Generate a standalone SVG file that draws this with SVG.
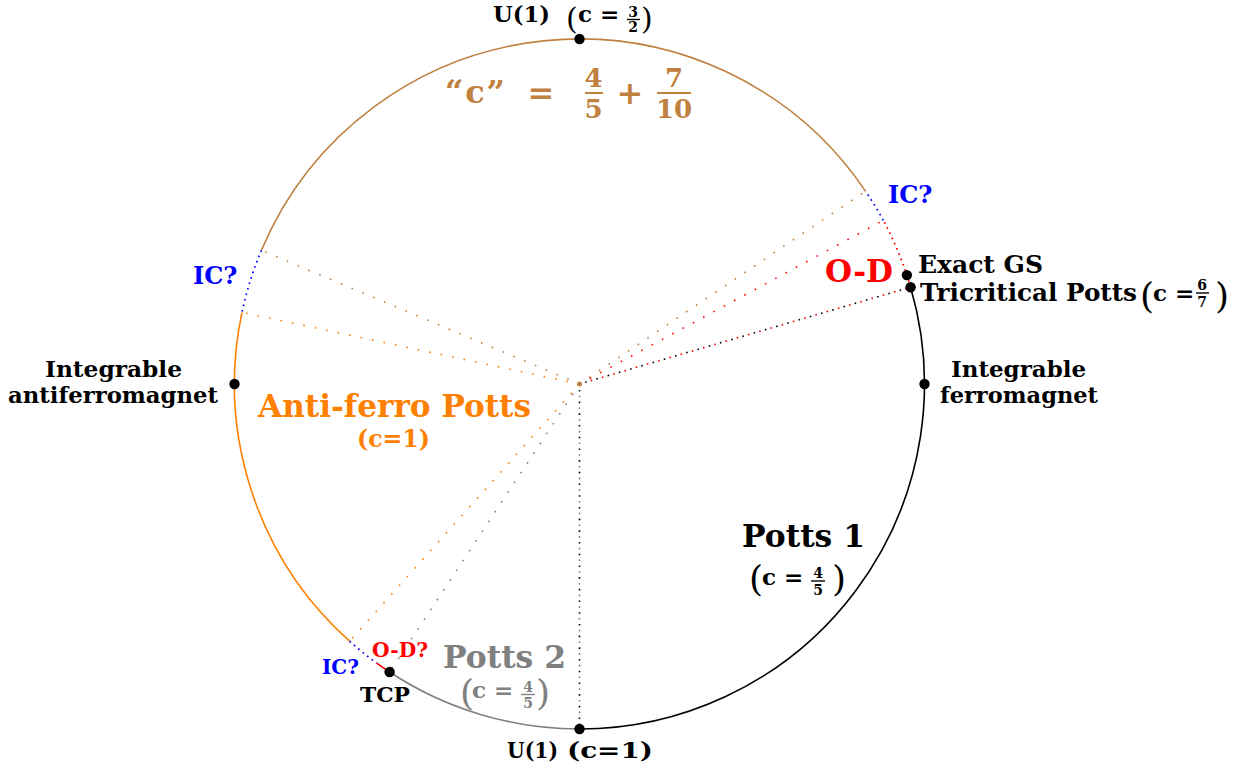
<svg xmlns="http://www.w3.org/2000/svg" width="1245" height="772" viewBox="0 0 1245 772">
<style>
text{font-family:"DejaVu Serif",serif;font-weight:bold;}
.L{font-size:23px}
.XL{font-size:31px}
.S{font-size:20px}
.f{font-size:14px;text-anchor:middle}
.p{font-weight:normal;font-size:36px}
.m{text-anchor:middle}
.arc{fill:none;stroke-width:1.6}
.dot{fill:none;stroke-width:1.7;stroke-dasharray:1.7 4;}
.rad{fill:none;stroke-width:1.6;stroke-dasharray:1.6 10.1;}
.bar{stroke-width:1.4}
.pt{fill:#000}
.brown{stroke:#BF8040}.orange{stroke:#FF8000}.gray{stroke:#808080}.blue{stroke:#0000FF}.red{stroke:#FF0000}.black{stroke:#000}
</style>
<rect width="1245" height="772" fill="#fff"/>
<g id="connectors">
<path class="rad brown" d="M579.5,384 L261.4,250.3 M579.5,384 L865.5,191.1"/>
<path class="rad orange" d="M579.5,384 L242,312.3 M579.5,384 L349.6,641.2"/>
<path class="rad red" d="M579.5,384 L883.3,220.4 M579.5,384 L910.6,287.2"/>
<path class="rad black" style="stroke-dashoffset:5.8" d="M579.5,384 L910.6,287.2 M579.5,384 L579.5,729"/>
<path class="rad gray" d="M579.5,384 L579.5,729 M579.5,384 L389.6,672"/>
<path class="arc brown" d="M865.5,191.1 A345,345 0 0 0 261.4,250.3"/>
<path class="dot blue" d="M261.4,250.3 A345,345 0 0 0 242,312.3"/>
<path class="arc orange" d="M242,312.3 A345,345 0 0 0 349.6,641.2"/>
<path class="dot blue" d="M349.6,641.2 A345,345 0 0 0 376.7,663.1"/>
<path class="arc red" d="M376.7,663.1 A345,345 0 0 0 389.6,672"/>
<path class="arc gray" d="M389.6,672 A345,345 0 0 0 579.5,729"/>
<path class="arc black" d="M579.5,729 A345,345 0 0 0 910.6,287.2"/>
<path class="dot red" d="M910.6,287.2 A345,345 0 0 0 883.3,220.4"/>
<path class="dot blue" d="M883.3,220.4 A345,345 0 0 0 865.5,191.1"/>
<circle cx="579.5" cy="384" r="2.5" fill="#BF8040"/>
</g>
<g id="u1-top">
<circle class="pt" cx="579.5" cy="39" r="5.2"/>
<text class="L" x="493" y="22" textLength="57" lengthAdjust="spacingAndGlyphs">U(1)</text>
<text class="p" x="566" y="29" style="font-size:30px">(</text>
<text class="L" x="578" y="22">c =</text>
<text class="f" x="633" y="16.5">3</text>
<line class="bar black" x1="627" y1="19.5" x2="640" y2="19.5"/>
<text class="f" x="633" y="32">2</text>
<text class="p" x="641" y="29" style="font-size:30px">)</text>
</g>
<g id="brown-formula" fill="#BF8040">
<text x="445" y="103" style="font-size:32px" textLength="60">“c”</text>
<text x="541" y="104" class="m" style="font-size:32px">=</text>
<text x="593.5" y="87" class="m" style="font-size:26px">4</text>
<line class="bar brown" x1="585" y1="93" x2="603" y2="93" style="stroke-width:2"/>
<text x="593.5" y="118" class="m" style="font-size:26px">5</text>
<text x="630" y="104" class="m" style="font-size:32px">+</text>
<text x="674" y="87" class="m" style="font-size:26px">7</text>
<line class="bar brown" x1="657" y1="93" x2="691" y2="93" style="stroke-width:2"/>
<text x="674" y="118" class="m" style="font-size:26px">10</text>
</g>
<g id="ic-right"><text x="888" y="203" fill="#0000FF" style="font-size:24px">IC?</text></g>
<g id="od"><text x="825" y="282" fill="#FF0000" class="XL" textLength="68" lengthAdjust="spacingAndGlyphs">O-D</text></g>
<g id="exact-gs">
<circle class="pt" cx="906.9" cy="275.1" r="5.2"/>
<text x="918" y="273" style="font-size:24px" textLength="125" lengthAdjust="spacingAndGlyphs">Exact GS</text>
</g>
<g id="tricritical">
<circle class="pt" cx="910.6" cy="287.2" r="5.2"/>
<text x="920" y="301" style="font-size:24px" textLength="217" lengthAdjust="spacingAndGlyphs">Tricritical Potts</text>
<text class="p" x="1140" y="308">(</text>
<text class="L" x="1153" y="301">c =</text>
<text class="f" x="1202" y="289.5">6</text>
<line class="bar black" x1="1196" y1="293" x2="1209" y2="293"/>
<text class="f" x="1202" y="307">7</text>
<text class="p" x="1215" y="308">)</text>
</g>
<g id="integrable-ferro">
<circle class="pt" cx="924.5" cy="384" r="5.2"/>
<text class="L m" x="1018.5" y="377" textLength="135" lengthAdjust="spacingAndGlyphs">Integrable</text>
<text class="L m" x="1019" y="403" textLength="158" lengthAdjust="spacingAndGlyphs">ferromagnet</text>
</g>
<g id="integrable-antiferro">
<circle class="pt" cx="234.5" cy="384" r="5.2"/>
<text class="L m" x="113.5" y="377" textLength="137" lengthAdjust="spacingAndGlyphs">Integrable</text>
<text class="L m" x="113" y="403" textLength="210" lengthAdjust="spacingAndGlyphs">antiferromagnet</text>
</g>
<g id="ic-left"><text x="193" y="284" fill="#0000FF" style="font-size:24px">IC?</text></g>
<g id="antiferro-potts" fill="#FF8000">
<text class="m" x="394.5" y="417" style="font-size:31px" textLength="273" lengthAdjust="spacingAndGlyphs">Anti-ferro Potts</text>
<text class="m" x="393.5" y="447" style="font-size:24px" textLength="73" lengthAdjust="spacingAndGlyphs">(c=1)</text>
</g>
<g id="potts1">
<text class="XL m" x="803.5" y="547" textLength="123" lengthAdjust="spacingAndGlyphs">Potts 1</text>
<text class="p" x="749" y="591">(</text>
<text class="L" x="762" y="585">c =</text>
<text class="f" x="818" y="577.5">4</text>
<line class="bar black" x1="811" y1="581" x2="825" y2="581"/>
<text class="f" x="818" y="595">5</text>
<text class="p" x="832" y="591">)</text>
</g>
<g id="potts2" fill="#808080">
<text class="XL m" x="504.5" y="668" textLength="123" lengthAdjust="spacingAndGlyphs">Potts 2</text>
<text class="p" x="460" y="705">(</text>
<text class="L" x="472" y="698">c =</text>
<text class="f" x="528" y="691.5">4</text>
<line class="bar gray" x1="521" y1="694.5" x2="535" y2="694.5"/>
<text class="f" x="528" y="708">5</text>
<text class="p" x="536" y="705">)</text>
</g>
<g id="od-q"><text x="372" y="657" fill="#FF0000" class="S" textLength="56" lengthAdjust="spacingAndGlyphs">O-D?</text></g>
<g id="ic-small"><text x="322" y="674" fill="#0000FF" class="S">IC?</text></g>
<g id="tcp">
<circle class="pt" cx="389.6" cy="672" r="5.2"/>
<text x="360" y="701.5" style="font-size:21px" textLength="50" lengthAdjust="spacingAndGlyphs">TCP</text>
</g>
<g id="u1-bottom">
<circle class="pt" cx="579.5" cy="729" r="5.2"/>
<text class="L" x="507" y="758" textLength="51" lengthAdjust="spacingAndGlyphs">U(1)</text>
<text class="L" x="567" y="758" textLength="86" lengthAdjust="spacingAndGlyphs">(c=1)</text>
</g>
</svg>
